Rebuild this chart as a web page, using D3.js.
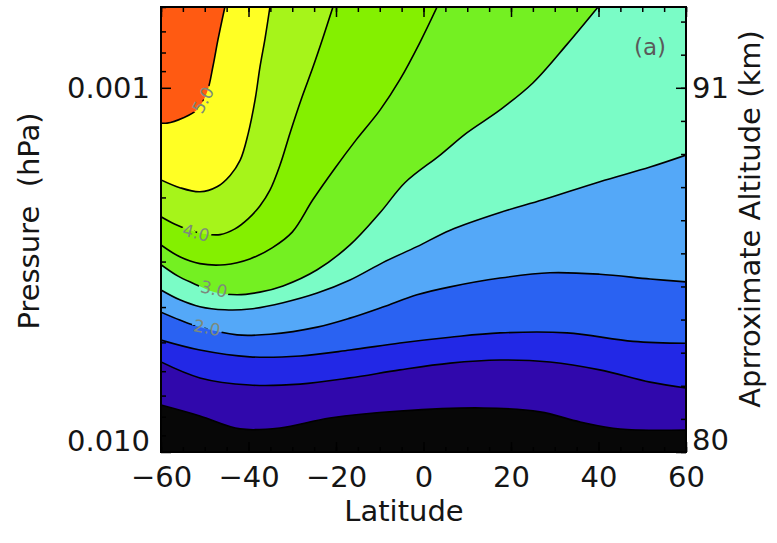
<!DOCTYPE html>
<html>
<head>
<meta charset="utf-8">
<script src="https://cdn.jsdelivr.net/npm/d3@7"></script>
<style>
  body { margin: 0; background: #fff; }
  svg { display: block; }
  text { font-family: "DejaVu Sans", sans-serif; }
</style>
</head>
<body>
<div class="chart"></div>
<script>
// contour levels and the fill above each one (first colour = below lowest level)
const levels = [0.5, 1.0, 1.5, 2.0, 2.5, 3.0, 3.5, 4.0, 4.5, 5.0]
const bandColors = ["#070707", "#3008ac", "#2228e6", "#2a62f2", "#54a8f8", "#7afcc6",
                    "#74f022", "#84f000", "#a6f41a", "#ffff24", "#ff5a12"]

// contour lines as [latitude, pressure hPa], each starting at the left edge
const c05 = [[-60,0.00743],[-51.1,0.00796],[-41.9,0.00864],[-32.8,0.00859],[-21.4,0.00807],[-5.4,0.00772],[13.6,0.00757],[26.6,0.00776],[35.8,0.00827],[44.9,0.00865],[60,0.00870]]
const c10 = [[-60,0.00566],[-51.1,0.00626],[-39.7,0.00655],[-28.2,0.00651],[-16.8,0.00626],[-5.4,0.00595],[6.1,0.00570],[17.5,0.00559],[28.9,0.00566],[40.3,0.00595],[51.8,0.00643],[60,0.00667]]
const c15 = [[-60,0.00493],[-51.1,0.00525],[-39.7,0.00548],[-28.2,0.00545],[-16.8,0.00525],[-5.4,0.00502],[6.1,0.00484],[17.5,0.00471],[32.8,0.00471],[47.9,0.00497],[60,0.00503]]
const c20 = [[-60,0.00413],[-55.7,0.00434],[-51.1,0.00454],[-42.6,0.00477],[-35.1,0.00475],[-24.3,0.00454],[-16.8,0.00429],[-9.3,0.00400],[-1.5,0.00370],[6.1,0.00352],[17.5,0.00333],[28.9,0.00322],[40.3,0.00325],[51.8,0.00335],[60,0.00341]]
const c25 = [[-60,0.00359],[-55.7,0.00382],[-51.1,0.00399],[-45.4,0.00407],[-39.7,0.00405],[-32.1,0.00389],[-24.3,0.00366],[-16.8,0.00337],[-9.3,0.00302],[-1.5,0.00273],[6.1,0.00246],[17.5,0.00220],[27.3,0.00203],[40.3,0.00181],[51.8,0.00165],[60,0.00153]]
const c30 = [[-60,0.00306],[-56.1,0.00329],[-52.7,0.00344],[-47.7,0.00364],[-42.6,0.00370],[-37.4,0.00364],[-32.1,0.00350],[-24.3,0.00316],[-16.8,0.00270],[-9.9,0.00220],[-4.2,0.00182],[3.8,0.00153],[9.9,0.00133],[17.5,0.00115],[25,0.00097],[32.8,0.00076],[39.9,0.0006]]
const c35 = [[-60,0.00270],[-55.7,0.00291],[-51.1,0.00304],[-45.4,0.00306],[-39.7,0.00295],[-34.6,0.00275],[-30,0.00249],[-25.3,0.00203],[-20.2,0.00166],[-15.4,0.00139],[-9.9,0.00115],[-5.4,0.00095],[-0.8,0.00075],[3.1,0.0006]]
const c40 = [[-60,0.00226],[-56.8,0.00237],[-53.4,0.00246],[-49.9,0.00252],[-46.5,0.00253],[-43.1,0.00244],[-40.1,0.00229],[-37.4,0.00211],[-35.1,0.00191],[-32.8,0.00163],[-30.5,0.00133],[-28,0.00108],[-25.3,0.00088],[-23,0.00073],[-20.7,0.0006]]
const c45 = [[-60,0.00179],[-55.7,0.00188],[-51.1,0.00193],[-47.2,0.00187],[-44.2,0.00174],[-41.9,0.00158],[-40.1,0.00134],[-38.5,0.00108],[-37.4,0.00088],[-36.2,0.00073],[-35.1,0.0006]]
const c50 = [[-60,0.00125],[-58.6,0.00125],[-55,0.00121],[-51.8,0.00115],[-49.5,0.00103],[-48.1,0.00087],[-47,0.00074],[-45.4,0.0006]]
const contourLines = [c05, c10, c15, c20, c25, c30, c35, c40, c45, c50]

// in-line labels: [level, latitude, pressure]
const contourLabels = [[5.0, -50.4, 0.00108], [4.0, -52, 0.00250], [3.0, -47.9, 0.00357], [2.0, -49.5, 0.00456]]
const labelAngles = [-62, 14, 12, 11]

const latRange = [-60, 60]
const pRange = [0.010, 0.0006]
const latTicks = [-60, -40, -20, 0, 20, 40, 60]
const latMinor = d3.range(-60, 61, 5)
const pTicks = [0.001, 0.010]
const pMinor = [0.0006, 0.0007, 0.0008, 0.0009, 0.002, 0.003, 0.004, 0.005, 0.006, 0.007, 0.008, 0.009]
const altTicks = [80, 91]
const altMinor = d3.range(80, 94, 1)

const svg = d3.select(".chart").append("svg")
  .attr("width", 777)
  .attr("height", 543)

const margin = {top: 7, right: 91, bottom: 91, left: 161}
const width = svg.attr("width") - margin.left - margin.right
const height = svg.attr("height") - margin.top - margin.bottom
const g = svg.append("g")
  .attr("transform", `translate(${margin.left}, ${margin.top})`)

const x = d3.scaleLinear().domain(latRange).range([0, width])
const y = d3.scaleLog().domain(pRange).range([height, 0])
const alt = d3.scaleLinear().domain(altTicks).range([y(pTicks[1]), y(pTicks[0])])

const line = d3.line()
  .x(d => x(d[0]))
  .y(d => y(d[1]))
  .curve(d3.curveCatmullRom.alpha(0.5))

// close each level with the plot's top corners, paint low to high
function bandPath(pts) {
  const last = pts[pts.length - 1]
  const corners = []
  if (last[0] >= latRange[1]) corners.push([latRange[1], pRange[1]])
  corners.push([latRange[0], pRange[1]])
  return line(pts) + corners.map(c => `L${x(c[0])},${y(c[1])}`).join("") + "Z"
}

g.append("clipPath").attr("id", "plot")
  .append("rect").attr("width", width).attr("height", height)

const field = g.append("g").attr("clip-path", "url(#plot)")
field.append("rect")
  .attr("width", width).attr("height", height)
  .attr("fill", bandColors[0])

field.selectAll("path.band")
  .data(contourLines)
  .enter().append("path")
  .attr("class", "band")
  .attr("d", bandPath)
  .attr("fill", (d, i) => bandColors[i + 1])

// gaps in the lines under the labels
const mask = g.append("mask").attr("id", "gaps")
  .attr("maskUnits", "userSpaceOnUse")
  .attr("x", 0).attr("y", 0).attr("width", width).attr("height", height)
mask.append("rect").attr("width", width).attr("height", height).attr("fill", "#fff")
mask.selectAll("text")
  .data(contourLabels)
  .enter().append("text")
  .attr("x", d => x(d[1]))
  .attr("y", d => y(d[2]))
  .attr("transform", (d, i) => `rotate(${labelAngles[i]}, ${x(d[1])}, ${y(d[2])})`)
  .attr("text-anchor", "middle")
  .attr("dy", "0.35em")
  .attr("font-size", 17)
  .attr("fill", "#000").attr("stroke", "#000").attr("stroke-width", 6)
  .text(d => d[0].toFixed(1))

field.append("g").attr("mask", "url(#gaps)")
  .selectAll("path")
  .data(contourLines)
  .enter().append("path")
  .attr("d", line)
  .attr("fill", "none")
  .attr("stroke", "#000")
  .attr("stroke-width", 1.6)

field.selectAll("text.clab")
  .data(contourLabels)
  .enter().append("text")
  .attr("class", "clab")
  .attr("x", d => x(d[1]))
  .attr("y", d => y(d[2]))
  .attr("transform", (d, i) => `rotate(${labelAngles[i]}, ${x(d[1])}, ${y(d[2])})`)
  .attr("text-anchor", "middle")
  .attr("dy", "0.35em")
  .attr("font-size", 17)
  .attr("fill", "#7c8a7c")
  .text(d => d[0].toFixed(1))

// axes, ticks pointing inward
const latFmt = d => d < 0 ? "\u2212" + Math.abs(d) : String(d)

function styleAxis(sel) {
  sel.select(".domain").remove()
  sel.selectAll("line").attr("stroke-width", 1.5)
  sel.selectAll("text").attr("font-size", 29).attr("fill", "#151515")
    .attr("font-family", "DejaVu Sans, sans-serif")
}

g.append("g").attr("transform", `translate(0, ${height})`)
  .call(d3.axisBottom(x).tickValues(latMinor).tickSize(-5).tickFormat(""))
  .call(styleAxis)
g.append("g").attr("transform", `translate(0, ${height})`)
  .call(d3.axisBottom(x).tickValues(latTicks).tickSize(-10).tickPadding(14).tickFormat(latFmt))
  .call(styleAxis)
g.append("g")
  .call(d3.axisTop(x).tickValues(latMinor).tickSize(-5).tickFormat(""))
  .call(styleAxis)
g.append("g")
  .call(d3.axisTop(x).tickValues(latTicks).tickSize(-10).tickFormat(""))
  .call(styleAxis)

g.append("g")
  .call(d3.axisLeft(y).tickValues(pMinor).tickSize(-5).tickFormat(""))
  .call(styleAxis)
const left = g.append("g")
  .call(d3.axisLeft(y).tickValues(pTicks).tickSize(-10).tickPadding(11).tickFormat(d3.format(".3f")))
  .call(styleAxis)
left.selectAll(".tick text").filter(d => d === pTicks[1]).attr("y", -11)

g.append("g").attr("transform", `translate(${width}, 0)`)
  .call(d3.axisRight(alt).tickValues(altMinor).tickSize(-5).tickFormat(""))
  .call(styleAxis)
const right = g.append("g").attr("transform", `translate(${width}, 0)`)
  .call(d3.axisRight(alt).tickValues(altTicks).tickSize(-10).tickPadding(6).tickFormat(d3.format("d")))
  .call(styleAxis)
right.selectAll(".tick text").filter(d => d === altTicks[0]).attr("y", -12)

g.append("rect")
  .attr("width", width).attr("height", height)
  .attr("fill", "none").attr("stroke", "#000").attr("stroke-width", 2)

g.append("text")
  .attr("x", width - 36).attr("y", 47 - margin.top)
  .attr("text-anchor", "middle").attr("dy", "0.35em")
  .attr("font-size", 23).attr("fill", "#5a5a5a")
  .text("(a)")

svg.append("text")
  .attr("x", 404).attr("y", 521)
  .attr("text-anchor", "middle")
  .attr("font-size", 29).attr("fill", "#151515")
  .text("Latitude")

svg.append("text")
  .attr("transform", "translate(39, 221) rotate(-90)")
  .attr("text-anchor", "middle")
  .attr("font-size", 29).attr("fill", "#151515")
  .attr("xml:space", "preserve")
  .text("Pressure  (hPa)")

svg.append("text")
  .attr("transform", "translate(760, 219) rotate(-90)")
  .attr("text-anchor", "middle")
  .attr("font-size", 29).attr("fill", "#151515")
  .text("Aprroximate Altitude (km)")
</script>
</body>
</html>
